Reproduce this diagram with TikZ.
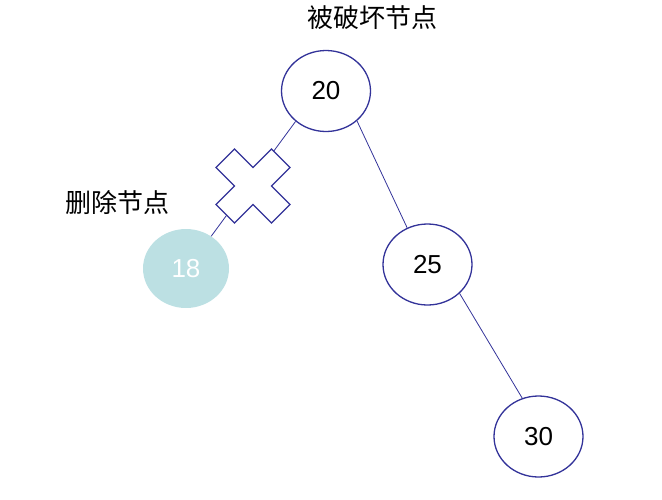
\documentclass[tikz,border=0pt]{standalone}
\usepackage{fontspec}
\setmainfont{Liberation Sans}
\newfontfamily\cjk{Noto Sans CJK SC}
\usetikzlibrary{shapes.geometric,calc}
\definecolor{navy}{HTML}{333399}
\definecolor{teal18}{HTML}{BCE0E3}
\begin{document}
\begin{tikzpicture}[x=1pt,y=-1pt,
  treenode/.style={ellipse,draw=navy,line width=1.3pt,minimum width=89pt,minimum height=81pt,inner sep=0pt,font=\fontsize{26}{26}\selectfont},
  deleted/.style={ellipse,fill=teal18,minimum width=86pt,minimum height=79pt,inner sep=0pt,text=white,font=\fontsize{26}{26}\selectfont},
  edge/.style={draw=navy,line width=0.8pt},
  label/.style={font=\cjk\fontsize{26}{26}\selectfont,inner sep=0pt}]
\useasboundingbox (0,0) rectangle (662,499);
\node[treenode] (n20) at (326,91) {20};
\node[treenode] (n25) at (427.5,264.5) {25};
\node[treenode] (n30) at (538.5,436.5) {30};
\node[deleted] (n18) at (186,268.5) {18};
\node[label] (t1) at (372,18) {被破坏节点};
\node[label] (t2) at (117,202.5) {删除节点};
\draw[edge] (n20.-44) -- (n25.119);
\draw[edge] (n25.-42) -- (n30.113);
\draw[edge] (n20.-135) -- (n18.52);
\coordinate (xc) at (253,186);
\draw[draw=navy,line width=1.3pt,fill=white,line join=miter]
  ($(xc)+(-18.5,-37)$) -- ++(18.5,18.5) -- ++(18.5,-18.5) -- ++(18.5,18.5)
  -- ++(-18.5,18.5) -- ++(18.5,18.5) -- ++(-18.5,18.5) -- ++(-18.5,-18.5)
  -- ++(-18.5,18.5) -- ++(-18.5,-18.5) -- ++(18.5,-18.5) -- ++(-18.5,-18.5) -- cycle;
\end{tikzpicture}
\end{document}
